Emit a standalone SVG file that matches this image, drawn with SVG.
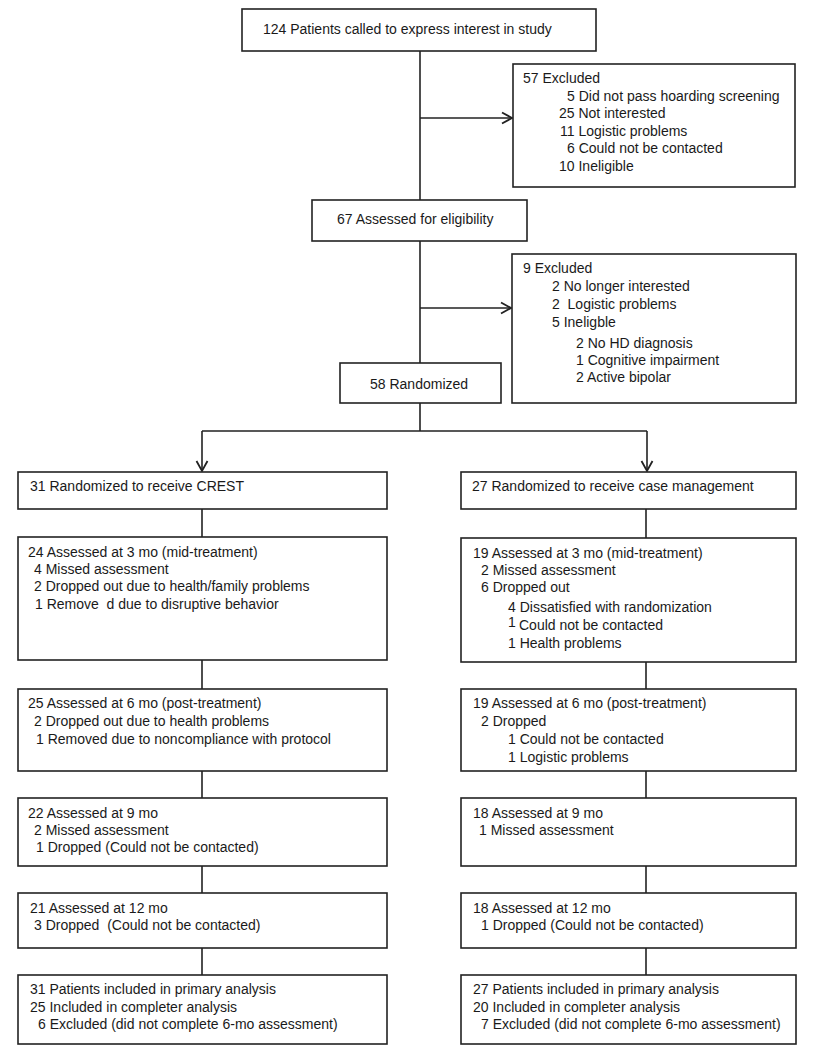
<svg xmlns="http://www.w3.org/2000/svg" width="820" height="1050" viewBox="0 0 820 1050">
<style>
.box{fill:#fff;stroke:#222;stroke-width:1.6}
.ln{fill:none;stroke:#222;stroke-width:1.6}
text{font-family:"Liberation Sans",Arial,sans-serif;font-size:14px;fill:#1a1a1a}
</style>
<defs>
<marker id="arr" viewBox="-12 -7 14 14" markerWidth="14" markerHeight="14" refX="0" refY="0" orient="auto" markerUnits="userSpaceOnUse">
<path d="M-10,-5.5 L0,0 L-10,5.5" fill="none" stroke="#222" stroke-width="1.8"/>
</marker>
</defs>
<rect width="820" height="1050" fill="#fff"/>
<g id="connectors">
<path class="ln" d="M420,51 V200"/>
<path class="ln" d="M420,118 H512" marker-end="url(#arr)"/>
<path class="ln" d="M420,241 V363"/>
<path class="ln" d="M420,308 H511" marker-end="url(#arr)"/>
<path class="ln" d="M420,403 V431 M202,431 H647"/>
<path class="ln" d="M202,431 V471" marker-end="url(#arr)"/>
<path class="ln" d="M647,431 V471" marker-end="url(#arr)"/>
<path class="ln" d="M202,509 V537 M202,660 V689 M202,771 V798 M202,866 V893 M202,948 V975"/>
<path class="ln" d="M646,509 V538 M646,662 V689 M646,771 V798 M646,866 V893 M646,948 V975"/>
</g>
<g id="n_called">
<rect class="box" x="242" y="9" width="354" height="42"/>
<text x="263" y="34">124 Patients called to express interest in study</text>
</g>
<g id="n_excl1">
<rect class="box" x="513" y="64" width="282" height="123"/>
<text x="523" y="83">57 Excluded</text>
<text x="567" y="101">5 Did not pass hoarding screening</text>
<text x="559" y="118">25 Not interested</text>
<text x="560" y="136">11 Logistic problems</text>
<text x="567" y="153">6 Could not be contacted</text>
<text x="559" y="171">10 Ineligible</text>
</g>
<g id="n_elig">
<rect class="box" x="312" y="200" width="215" height="41"/>
<text x="337" y="224">67 Assessed for eligibility</text>
</g>
<g id="n_excl2">
<rect class="box" x="512" y="254" width="284" height="149"/>
<text x="523" y="273">9 Excluded</text>
<text x="552" y="291">2 No longer interested</text>
<text x="552" y="309" xml:space="preserve">2  Logistic problems</text>
<text x="552" y="327">5 Ineligble</text>
<text x="576" y="348">2 No HD diagnosis</text>
<text x="576" y="365">1 Cognitive impairment</text>
<text x="576" y="382">2 Active bipolar</text>
</g>
<g id="n_rand">
<rect class="box" x="340" y="363" width="161" height="40"/>
<text x="370" y="389">58 Randomized</text>
</g>
<g id="n_crest">
<rect class="box" x="18" y="472" width="369" height="37"/>
<text x="30" y="491">31 Randomized to receive CREST</text>
</g>
<g id="n_crest3">
<rect class="box" x="18" y="537" width="369" height="123"/>
<text x="28" y="557">24 Assessed at 3 mo (mid-treatment)</text>
<text x="34" y="574">4 Missed assessment</text>
<text x="34" y="591">2 Dropped out due to health/family problems</text>
<text x="35" y="609" xml:space="preserve">1 Remove  d due to disruptive behavior</text>
</g>
<g id="n_crest6">
<rect class="box" x="18" y="689" width="369" height="82"/>
<text x="28" y="708">25 Assessed at 6 mo (post-treatment)</text>
<text x="34" y="726">2 Dropped out due to health problems</text>
<text x="36" y="744">1 Removed due to noncompliance with protocol</text>
</g>
<g id="n_crest9">
<rect class="box" x="18" y="798" width="369" height="68"/>
<text x="28" y="818">22 Assessed at 9 mo</text>
<text x="34" y="835">2 Missed assessment</text>
<text x="36" y="852">1 Dropped (Could not be contacted)</text>
</g>
<g id="n_crest12">
<rect class="box" x="18" y="893" width="369" height="55"/>
<text x="30" y="913">21 Assessed at 12 mo</text>
<text x="34" y="930" xml:space="preserve">3 Dropped  (Could not be contacted)</text>
</g>
<g id="n_crestA">
<rect class="box" x="18" y="975" width="369" height="69"/>
<text x="30" y="994">31 Patients included in primary analysis</text>
<text x="30" y="1012">25 Included in completer analysis</text>
<text x="38" y="1029">6 Excluded (did not complete 6-mo assessment)</text>
</g>
<g id="n_cm">
<rect class="box" x="461" y="472" width="335" height="37"/>
<text x="472" y="491">27 Randomized to receive case management</text>
</g>
<g id="n_cm3">
<rect class="box" x="461" y="538" width="335" height="124"/>
<text x="473" y="558">19 Assessed at 3 mo (mid-treatment)</text>
<text x="481" y="575">2 Missed assessment</text>
<text x="481" y="592">6 Dropped out</text>
<text x="508" y="612">4 Dissatisfied with randomization</text>
<text x="508" y="627">1</text>
<text x="519" y="630">Could not be contacted</text>
<text x="508" y="648">1 Health problems</text>
</g>
<g id="n_cm6">
<rect class="box" x="461" y="689" width="335" height="82"/>
<text x="473" y="708">19 Assessed at 6 mo (post-treatment)</text>
<text x="481" y="726">2 Dropped</text>
<text x="508" y="744">1 Could not be contacted</text>
<text x="508" y="762">1 Logistic problems</text>
</g>
<g id="n_cm9">
<rect class="box" x="461" y="798" width="335" height="68"/>
<text x="473" y="818">18 Assessed at 9 mo</text>
<text x="479" y="835">1 Missed assessment</text>
</g>
<g id="n_cm12">
<rect class="box" x="461" y="893" width="335" height="55"/>
<text x="473" y="913">18 Assessed at 12 mo</text>
<text x="481" y="930">1 Dropped (Could not be contacted)</text>
</g>
<g id="n_cmA">
<rect class="box" x="461" y="975" width="335" height="69"/>
<text x="473" y="994">27 Patients included in primary analysis</text>
<text x="473" y="1012">20 Included in completer analysis</text>
<text x="481" y="1029">7 Excluded (did not complete 6-mo assessment)</text>
</g>
</svg>
